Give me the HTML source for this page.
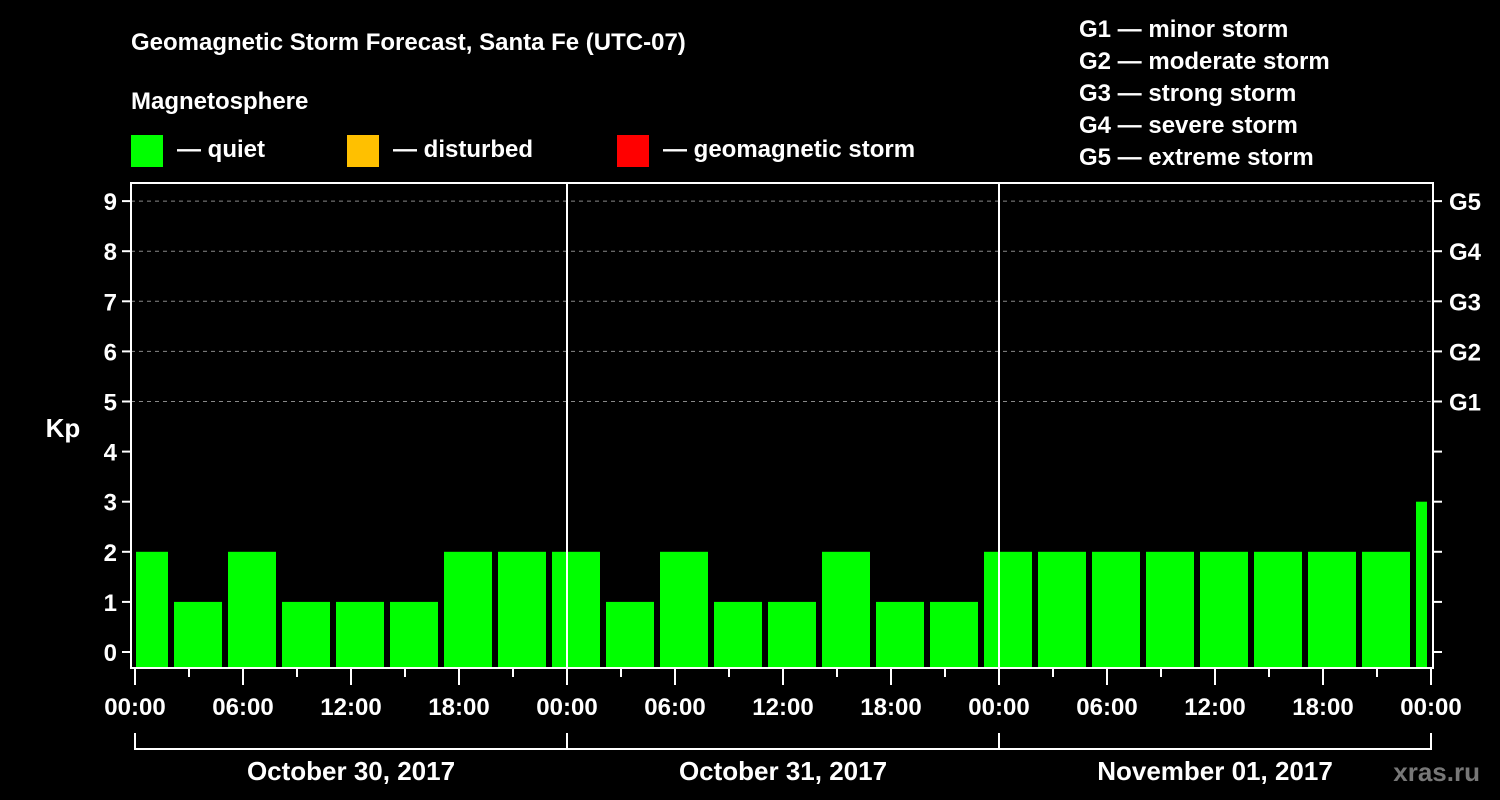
<!DOCTYPE html>
<html><head><meta charset="utf-8"><style>
body{margin:0;background:#000;}
svg{display:block;font-family:"Liberation Sans",Arial,sans-serif;font-weight:bold;}
</style></head><body>
<svg id="chart" width="1500" height="800" viewBox="0 0 1500 800">
<rect width="1500" height="800" fill="#000"/>
<text x="131" y="50" fill="#fff" font-size="24">Geomagnetic Storm Forecast, Santa Fe (UTC-07)</text>
<text x="131" y="109" fill="#fff" font-size="24">Magnetosphere</text>
<g><rect x="131" y="135" width="32" height="32" fill="#00ff00"/><text x="177" y="157" fill="#fff" font-size="24">— quiet</text></g>
<g><rect x="347" y="135" width="32" height="32" fill="#ffc000"/><text x="393" y="157" fill="#fff" font-size="24">— disturbed</text></g>
<g><rect x="617" y="135" width="32" height="32" fill="#ff0000"/><text x="663" y="157" fill="#fff" font-size="24">— geomagnetic storm</text></g>
<g fill="#fff" font-size="24">
<text x="1079" y="37">G1 — minor storm</text>
<text x="1079" y="69">G2 — moderate storm</text>
<text x="1079" y="101">G3 — strong storm</text>
<text x="1079" y="133">G4 — severe storm</text>
<text x="1079" y="165">G5 — extreme storm</text>
</g>
<text x="63" y="437" fill="#fff" font-size="26" text-anchor="middle">Kp</text>
<g id="grid"></g><g id="bars"></g><g id="axes"></g>
<text x="1480" y="781" fill="#777" font-size="26" text-anchor="end">xras.ru</text>
</svg>
<script>
const kpValues=[2,1,2,1,1,1,2,2,2,1,2,1,1,2,1,1,2,2,2,2,2,2,2,2,3];
const blockStartHours=[-1,2,5,8,11,14,17,20,23,26,29,32,35,38,41,44,47,50,53,56,59,62,65,68,71];
const yTicks=[0,1,2,3,4,5,6,7,8,9];
const gLabels=["","","","","","G1","G2","G3","G4","G5"];
const xTickLabels=["00:00","06:00","12:00","18:00","00:00","06:00","12:00","18:00","00:00","06:00","12:00","18:00","00:00"];
const dayLabels=["October 30, 2017","October 31, 2017","November 01, 2017"];
const NS="http://www.w3.org/2000/svg";
const L=131,R=1433,T=183,B=668,X0=135,HPX=18;
const x=h=>X0+h*HPX;
const y=v=>652-v*50.1;
function mk(tag,attrs,parent,text){const e=document.createElementNS(NS,tag);for(const k in attrs)e.setAttribute(k,attrs[k]);if(text!==undefined)e.textContent=text;parent.appendChild(e);return e;}
const grid=document.getElementById('grid'),bars=document.getElementById('bars'),axes=document.getElementById('axes');
yTicks.forEach((v,i)=>{
 if(gLabels[i]){const g=mk('line',{x1:L,x2:R,y1:y(v),y2:y(v),stroke:'#888','stroke-dasharray':'4,4'},grid);
 
 }
 const t=mk('line',{x1:L-9,x2:L,y1:y(v),y2:y(v),stroke:'#fff','stroke-width':2},axes);
 
 
 const lb=mk('text',{x:L-14,y:y(v)+9,fill:'#fff','font-size':24,'text-anchor':'end'},axes,String(v));
 
 
 const rt=mk('line',{x1:R,x2:R+9,y1:y(v),y2:y(v),stroke:'#fff','stroke-width':2},axes);
 
 
 if(gLabels[i]){const gl=mk('text',{x:1449,y:y(v)+9,fill:'#fff','font-size':24},axes,gLabels[i]);
 
 }
});
kpValues.forEach((v,i)=>{
 const s=Math.max(0,blockStartHours[i]),e=Math.min(72,blockStartHours[i]+3);
 const x1=s===0?x(s)+1:x(s)+3, x2=e===72?x(e)-4:x(e)-3;
 const col=v>=5?'#ff0000':(v>=4?'#ffc000':'#00ff00');
 const r=mk('rect',{x:x1,y:y(v),width:x2-x1,height:B-y(v),fill:col},bars);
 
 
});
[1,2].forEach(d=>{const l=mk('line',{x1:x(24*d),x2:x(24*d),y1:T,y2:B,stroke:'#fff','stroke-width':2},axes);
 
 });
const fr=mk('rect',{x:L,y:T,width:R-L,height:B-T,fill:'none',stroke:'#fff','stroke-width':2},axes);


for(let h=0;h<=72;h+=3){const major=h%6===0;
 const t=mk('line',{x1:x(h),x2:x(h),y1:B,y2:B+(major?17:9),stroke:'#fff','stroke-width':2},axes);
 
 }
xTickLabels.forEach((s,i)=>{const t=mk('text',{x:x(i*6),y:715,fill:'#fff','font-size':24,'text-anchor':'middle'},axes,s);
 
 });
const br=mk('path',{d:`M${x(0)} 733V749H${x(72)}V733 M${x(24)} 733V749 M${x(48)} 733V749`,stroke:'#fff','stroke-width':2,fill:'none'},axes);


dayLabels.forEach((s,i)=>{const t=mk('text',{x:x(24*i+12),y:780,fill:'#fff','font-size':26,'text-anchor':'middle'},axes,s);
 
 });
</script>
</body></html>
